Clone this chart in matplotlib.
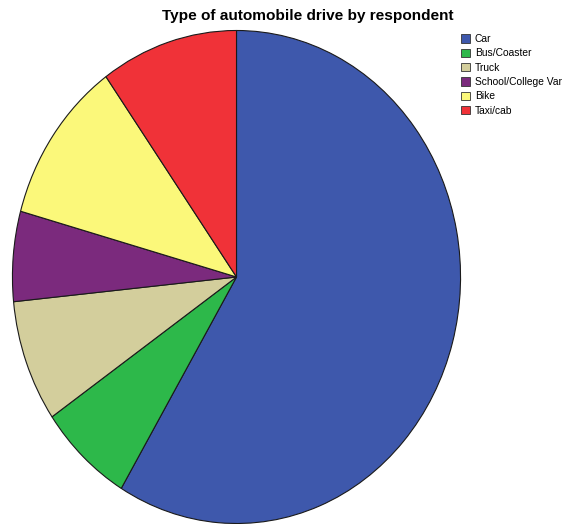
import matplotlib.pyplot as plt
from matplotlib.patches import Patch

labels = ["Car", "Bus/Coaster", "Truck", "School/College Van", "Bike", "Taxi/cab"]
legend_labels = ["Car", "Bus/Coaster", "Truck", "School/College Var", "Bike", "Taxi/cab"]
shares = [58.6, 6.8, 8.0, 5.9, 10.8, 9.9]
colors = ["#3e58ac", "#2db84a", "#d3ce9c", "#7b2a7d", "#fbf87a", "#f03238"]

W, H = 566, 524
fig = plt.figure(figsize=(W / 100, H / 100), dpi=100)
plt.rcParams["font.family"] = ["Liberation Sans", "DejaVu Sans"]

# pie is slightly taller than wide in the original
ax = fig.add_axes([12 / W, 0 / H, 449 / W, 494 / H])
ax.pie(shares, colors=colors, startangle=90, counterclock=False,
       wedgeprops=dict(edgecolor="#1a1a1a", linewidth=0.8))
ax.set_aspect("auto")
ax.set_xlim(-1.002, 1.002)
ax.set_ylim(-1.002, 1.002)
ax.axis("off")

fig.text(308 / W, 1 - 16 / H, "Type of automobile drive by respondent",
         ha="center", va="center", fontsize=11.1, fontweight="bold")

handles = [Patch(facecolor=c, edgecolor="#333333", linewidth=0.6) for c in colors]
fig.legend(handles, legend_labels, loc="upper left",
           bbox_to_anchor=(459 / W, 1 - 32 / H), frameon=False,
           fontsize=7.4, handlelength=0.85, handleheight=0.85,
           handletextpad=0.5, labelspacing=0.42, borderpad=0.2,
           borderaxespad=0)

fig.savefig("out.png", dpi=100)
